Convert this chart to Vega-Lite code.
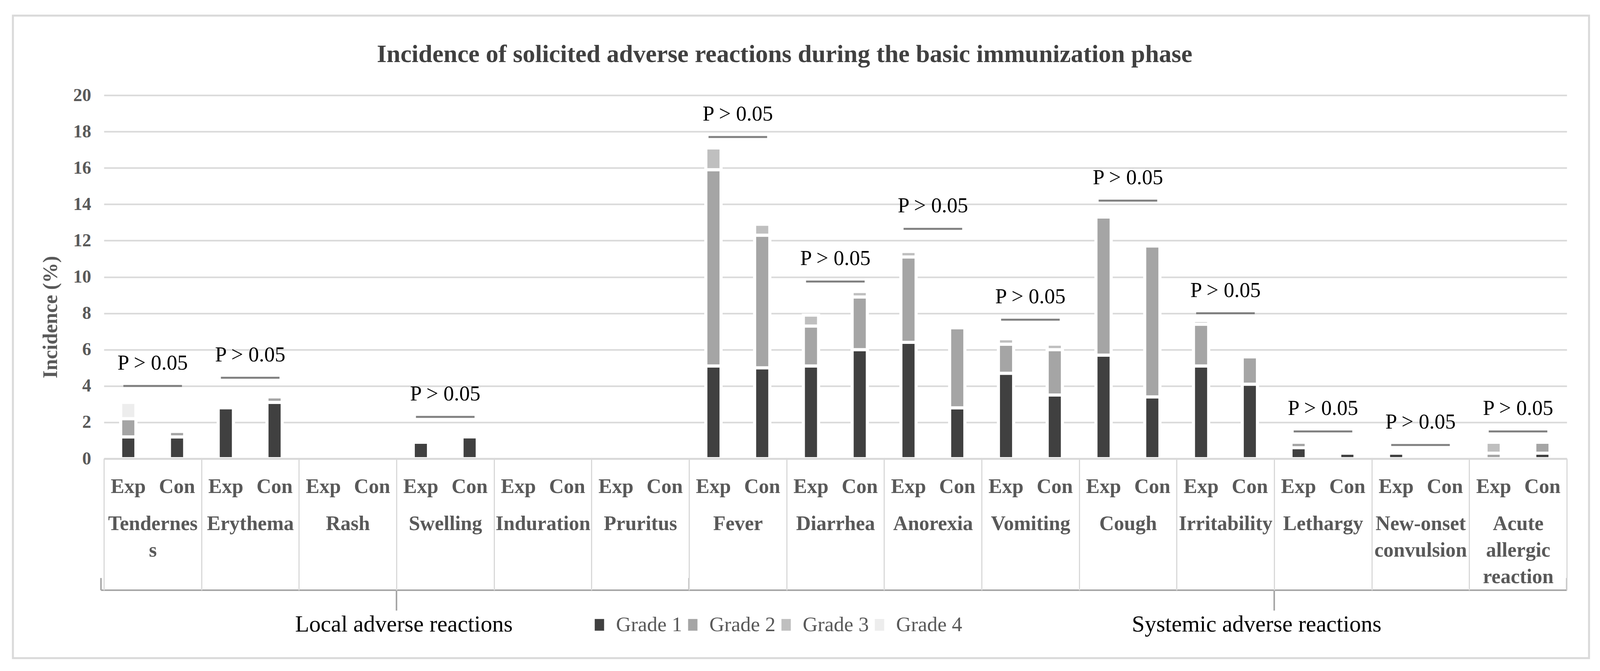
{
  "$schema": "https://vega.github.io/schema/vega-lite/v6.json",
  "width": 3745,
  "height": 931,
  "autosize": {"type": "none"},
  "padding": {"left": 266, "top": 244, "right": 85, "bottom": 544},
  "background": "white",
  "title": {
    "text": "Incidence of solicited adverse reactions during the basic immunization phase",
    "font": "Liberation Serif", "fontSize": 64, "fontWeight": "bold", "color": "#404040",
    "anchor": "middle", "frame": "group", "dx": -130, "offset": -185, "baseline": "alphabetic"
  },
  "config": {"view": {"stroke": null}, "font": "Liberation Serif"},
  "datasets": {
    "bars": [
      {"category": "Tenderness", "group": "Exp", "grade": "Grade 1", "value": 1.2},
      {"category": "Tenderness", "group": "Exp", "grade": "Grade 2", "value": 1.0},
      {"category": "Tenderness", "group": "Exp", "grade": "Grade 4", "value": 0.9},
      {"category": "Tenderness", "group": "Con", "grade": "Grade 1", "value": 1.2},
      {"category": "Tenderness", "group": "Con", "grade": "Grade 2", "value": 0.3},
      {"category": "Erythema", "group": "Exp", "grade": "Grade 1", "value": 2.8},
      {"category": "Erythema", "group": "Con", "grade": "Grade 1", "value": 3.1},
      {"category": "Erythema", "group": "Con", "grade": "Grade 2", "value": 0.3},
      {"category": "Rash", "group": "Exp", "grade": "Grade 1", "value": 0},
      {"category": "Rash", "group": "Con", "grade": "Grade 1", "value": 0},
      {"category": "Swelling", "group": "Exp", "grade": "Grade 1", "value": 0.9},
      {"category": "Swelling", "group": "Con", "grade": "Grade 1", "value": 1.2},
      {"category": "Induration", "group": "Exp", "grade": "Grade 1", "value": 0},
      {"category": "Induration", "group": "Con", "grade": "Grade 1", "value": 0},
      {"category": "Pruritus", "group": "Exp", "grade": "Grade 1", "value": 0},
      {"category": "Pruritus", "group": "Con", "grade": "Grade 1", "value": 0},
      {"category": "Fever", "group": "Exp", "grade": "Grade 1", "value": 5.1},
      {"category": "Fever", "group": "Exp", "grade": "Grade 2", "value": 10.8},
      {"category": "Fever", "group": "Exp", "grade": "Grade 3", "value": 1.2},
      {"category": "Fever", "group": "Con", "grade": "Grade 1", "value": 5.0},
      {"category": "Fever", "group": "Con", "grade": "Grade 2", "value": 7.3},
      {"category": "Fever", "group": "Con", "grade": "Grade 3", "value": 0.6},
      {"category": "Diarrhea", "group": "Exp", "grade": "Grade 1", "value": 5.1},
      {"category": "Diarrhea", "group": "Exp", "grade": "Grade 2", "value": 2.2},
      {"category": "Diarrhea", "group": "Exp", "grade": "Grade 3", "value": 0.6},
      {"category": "Diarrhea", "group": "Con", "grade": "Grade 1", "value": 6.0},
      {"category": "Diarrhea", "group": "Con", "grade": "Grade 2", "value": 2.9},
      {"category": "Diarrhea", "group": "Con", "grade": "Grade 3", "value": 0.3},
      {"category": "Anorexia", "group": "Exp", "grade": "Grade 1", "value": 6.4},
      {"category": "Anorexia", "group": "Exp", "grade": "Grade 2", "value": 4.7},
      {"category": "Anorexia", "group": "Exp", "grade": "Grade 3", "value": 0.3},
      {"category": "Anorexia", "group": "Con", "grade": "Grade 1", "value": 2.8},
      {"category": "Anorexia", "group": "Con", "grade": "Grade 2", "value": 4.4},
      {"category": "Vomiting", "group": "Exp", "grade": "Grade 1", "value": 4.7},
      {"category": "Vomiting", "group": "Exp", "grade": "Grade 2", "value": 1.6},
      {"category": "Vomiting", "group": "Exp", "grade": "Grade 3", "value": 0.3},
      {"category": "Vomiting", "group": "Con", "grade": "Grade 1", "value": 3.5},
      {"category": "Vomiting", "group": "Con", "grade": "Grade 2", "value": 2.5},
      {"category": "Vomiting", "group": "Con", "grade": "Grade 3", "value": 0.3},
      {"category": "Cough", "group": "Exp", "grade": "Grade 1", "value": 5.7},
      {"category": "Cough", "group": "Exp", "grade": "Grade 2", "value": 7.6},
      {"category": "Cough", "group": "Con", "grade": "Grade 1", "value": 3.4},
      {"category": "Cough", "group": "Con", "grade": "Grade 2", "value": 8.3},
      {"category": "Irritability", "group": "Exp", "grade": "Grade 1", "value": 5.1},
      {"category": "Irritability", "group": "Exp", "grade": "Grade 2", "value": 2.3},
      {"category": "Irritability", "group": "Exp", "grade": "Grade 3", "value": 0.2},
      {"category": "Irritability", "group": "Con", "grade": "Grade 1", "value": 4.1},
      {"category": "Irritability", "group": "Con", "grade": "Grade 2", "value": 1.5},
      {"category": "Lethargy", "group": "Exp", "grade": "Grade 1", "value": 0.6},
      {"category": "Lethargy", "group": "Exp", "grade": "Grade 2", "value": 0.3},
      {"category": "Lethargy", "group": "Con", "grade": "Grade 1", "value": 0.3},
      {"category": "New-onset convulsion", "group": "Exp", "grade": "Grade 1", "value": 0.3},
      {"category": "New-onset convulsion", "group": "Con", "grade": "Grade 1", "value": 0},
      {"category": "Acute allergic reaction", "group": "Exp", "grade": "Grade 1", "value": 0},
      {"category": "Acute allergic reaction", "group": "Exp", "grade": "Grade 2", "value": 0.3},
      {"category": "Acute allergic reaction", "group": "Exp", "grade": "Grade 3", "value": 0.6},
      {"category": "Acute allergic reaction", "group": "Con", "grade": "Grade 1", "value": 0.3},
      {"category": "Acute allergic reaction", "group": "Con", "grade": "Grade 2", "value": 0.6}
    ],
    "pvals": [
      {"category": "Tenderness", "line_y": 4.0},
      {"category": "Erythema", "line_y": 4.45},
      {"category": "Swelling", "line_y": 2.3},
      {"category": "Fever", "line_y": 17.7},
      {"category": "Diarrhea", "line_y": 9.75},
      {"category": "Anorexia", "line_y": 12.65},
      {"category": "Vomiting", "line_y": 7.65},
      {"category": "Cough", "line_y": 14.2},
      {"category": "Irritability", "line_y": 8.0},
      {"category": "Lethargy", "line_y": 1.5},
      {"category": "New-onset convulsion", "line_y": 0.75},
      {"category": "Acute allergic reaction", "line_y": 1.5}
    ]
  },
  "layer": [
    {
      "layer": [
        {
          "data": {"name": "bars"},
          "transform": [{"filter": "datum.value > 0"}],
          "mark": {"type": "bar", "stroke": "white", "strokeWidth": 8},
          "encoding": {
            "x": {
              "field": "category", "type": "nominal",
              "scale": {"domain": ["Tenderness", "Erythema", "Rash", "Swelling", "Induration", "Pruritus", "Fever", "Diarrhea", "Anorexia", "Vomiting", "Cough", "Irritability", "Lethargy", "New-onset convulsion", "Acute allergic reaction"], "paddingInner": 0, "paddingOuter": 0},
              "axis": {
                "title": null, "zindex": 1,
                "domain": true, "domainColor": "#d9d9d9", "domainWidth": 5,
                "ticks": true, "tickBand": "extent", "tickSize": 337, "tickColor": "#d9d9d9", "tickWidth": 3,
                "labelPadding": -196, "labelBaseline": "top", "labelAngle": 0,
                "labelFont": "Liberation Serif", "labelFontSize": 52, "labelFontWeight": "bold", "labelColor": "#595959",
                "labelLineHeight": 68, "labelLimit": 0, "labelOverlap": false,
                "labelExpr": "datum.value == 'Tenderness' ? ['Tendernes', 's'] : datum.value == 'New-onset convulsion' ? ['New-onset', 'convulsion'] : datum.value == 'Acute allergic reaction' ? ['Acute', 'allergic', 'reaction'] : datum.label"
              }
            },
            "xOffset": {"field": "group", "type": "nominal", "scale": {"domain": ["Exp", "Con"], "paddingInner": 0.6876, "paddingOuter": 0.3438}},
            "y": {
              "field": "value", "type": "quantitative", "stack": "zero",
              "scale": {"domain": [0, 20], "nice": false},
              "axis": {
                "values": [0, 2, 4, 6, 8, 10, 12, 14, 16, 18, 20],
                "title": "Incidence (%)", "grid": true, "gridColor": "#d9d9d9", "gridWidth": 4,
                "domain": false, "ticks": false, "labelPadding": 33,
                "labelFont": "Liberation Serif", "labelFontSize": 46, "labelFontWeight": "bold", "labelColor": "#595959",
                "titleFont": "Liberation Serif", "titleFontSize": 52, "titleFontWeight": "bold", "titleColor": "#595959",
                "titleX": -137, "titleY": 568, "titleAngle": 270, "titleAlign": "center", "titleBaseline": "middle"
              }
            },
            "color": {
              "field": "grade", "type": "nominal",
              "scale": {"domain": ["Grade 1", "Grade 2", "Grade 3", "Grade 4"], "range": ["#404040", "#a5a5a5", "#bfbfbf", "#ededed"]},
              "legend": {
                "title": null, "orient": "none", "direction": "horizontal", "columns": 4,
                "legendX": 1242, "legendY": 1330,
                "symbolType": "M-0.8,-1L0.8,-1L0.8,1L-0.8,1Z", "symbolSize": 900, "symbolStrokeWidth": 0,
                "labelFont": "Liberation Serif", "labelFontSize": 53, "labelColor": "#595959", "labelLimit": 0,
                "labelOffset": 16, "columnPadding": -1, "padding": 0
              }
            },
            "order": {"field": "grade", "sort": "ascending"}
          }
        },
        {
          "data": {"name": "bars"},
          "transform": [{"filter": "datum.grade == 'Grade 1'"}],
          "mark": {"type": "text", "font": "Liberation Serif", "fontSize": 52, "fontWeight": "bold", "color": "#595959", "baseline": "middle", "align": "center"},
          "encoding": {
            "x": {"field": "category", "type": "nominal"},
            "xOffset": {"field": "group", "type": "nominal", "scale": {"domain": ["Exp", "Con"], "paddingInner": 0.6876, "paddingOuter": 0.3438}},
            "y": {"datum": -1.55, "type": "quantitative", "scale": {"domain": [0, 20], "nice": false}},
            "text": {"field": "group", "type": "nominal"}
          }
        },
        {
          "data": {"name": "pvals"},
          "mark": {"type": "tick", "orient": "horizontal", "size": 150, "thickness": 5, "color": "#7f7f7f", "opacity": 1},
          "encoding": {
            "x": {"field": "category", "type": "nominal"},
            "y": {"field": "line_y", "type": "quantitative", "scale": {"domain": [0, 20], "nice": false}}
          }
        },
        {
          "data": {"name": "pvals"},
          "mark": {"type": "text", "text": "P > 0.05", "font": "Liberation Serif", "fontSize": 54, "color": "#000000", "baseline": "middle", "align": "center", "dy": -58},
          "encoding": {
            "x": {"field": "category", "type": "nominal"},
            "y": {"field": "line_y", "type": "quantitative", "scale": {"domain": [0, 20], "nice": false}}
          }
        }
      ]
    },
    {
      "layer": [
        {
          "data": {"values": [{}]},
          "mark": {"type": "rect", "fillOpacity": 0, "stroke": "#d9d9d9", "strokeWidth": 5},
          "encoding": {
            "x": {"datum": -0.933, "type": "quantitative", "scale": {"domain": [0, 15], "nice": false, "zero": false}, "axis": null},
            "x2": {"datum": 15.228},
            "y": {"datum": 24.38, "type": "quantitative", "scale": {"domain": [0, 20], "nice": false, "zero": false}, "axis": null},
            "y2": {"datum": -10.98}
          }
        },
        {
          "data": {"values": [{}]},
          "mark": {"type": "rule", "color": "#a6a6a6", "strokeWidth": 4},
          "encoding": {
            "x": {"datum": -0.03, "type": "quantitative", "scale": {"domain": [0, 15], "nice": false, "zero": false}, "axis": null},
            "x2": {"datum": 15},
            "y": {"datum": -7.24, "type": "quantitative", "scale": {"domain": [0, 20], "nice": false, "zero": false}, "axis": null}
          }
        },
        {
          "data": {"values": [{}]},
          "mark": {"type": "rule", "color": "#a6a6a6", "strokeWidth": 4},
          "encoding": {
            "x": {"datum": -0.03, "type": "quantitative", "scale": {"domain": [0, 15], "nice": false, "zero": false}, "axis": null},
            "y": {"datum": -7.24, "type": "quantitative", "scale": {"domain": [0, 20], "nice": false, "zero": false}, "axis": null},
            "y2": {"datum": -6.57}
          }
        },
        {
          "data": {"values": [{}]},
          "mark": {"type": "rule", "color": "#a6a6a6", "strokeWidth": 4},
          "encoding": {
            "x": {"datum": 6, "type": "quantitative", "scale": {"domain": [0, 15], "nice": false, "zero": false}, "axis": null},
            "y": {"datum": -7.24, "type": "quantitative", "scale": {"domain": [0, 20], "nice": false, "zero": false}, "axis": null},
            "y2": {"datum": -6.57}
          }
        },
        {
          "data": {"values": [{}]},
          "mark": {"type": "rule", "color": "#a6a6a6", "strokeWidth": 4},
          "encoding": {
            "x": {"datum": 15, "type": "quantitative", "scale": {"domain": [0, 15], "nice": false, "zero": false}, "axis": null},
            "y": {"datum": -7.24, "type": "quantitative", "scale": {"domain": [0, 20], "nice": false, "zero": false}, "axis": null},
            "y2": {"datum": -6.57}
          }
        },
        {
          "data": {"values": [{}]},
          "mark": {"type": "rule", "color": "#a6a6a6", "strokeWidth": 4},
          "encoding": {
            "x": {"datum": 3, "type": "quantitative", "scale": {"domain": [0, 15], "nice": false, "zero": false}, "axis": null},
            "y": {"datum": -7.24, "type": "quantitative", "scale": {"domain": [0, 20], "nice": false, "zero": false}, "axis": null},
            "y2": {"datum": -8.36}
          }
        },
        {
          "data": {"values": [{}]},
          "mark": {"type": "rule", "color": "#a6a6a6", "strokeWidth": 4},
          "encoding": {
            "x": {"datum": 12, "type": "quantitative", "scale": {"domain": [0, 15], "nice": false, "zero": false}, "axis": null},
            "y": {"datum": -7.24, "type": "quantitative", "scale": {"domain": [0, 20], "nice": false, "zero": false}, "axis": null},
            "y2": {"datum": -8.36}
          }
        },
        {
          "data": {"values": [{}]},
          "mark": {"type": "text", "text": "Local adverse reactions", "font": "Liberation Serif", "fontSize": 59, "color": "#000000", "baseline": "middle", "align": "center"},
          "encoding": {
            "x": {"datum": 3.076, "type": "quantitative", "scale": {"domain": [0, 15], "nice": false, "zero": false}, "axis": null},
            "y": {"datum": -9.13, "type": "quantitative", "scale": {"domain": [0, 20], "nice": false, "zero": false}, "axis": null}
          }
        },
        {
          "data": {"values": [{}]},
          "mark": {"type": "text", "text": "Systemic adverse reactions", "font": "Liberation Serif", "fontSize": 59, "color": "#000000", "baseline": "middle", "align": "center"},
          "encoding": {
            "x": {"datum": 11.82, "type": "quantitative", "scale": {"domain": [0, 15], "nice": false, "zero": false}, "axis": null},
            "y": {"datum": -9.13, "type": "quantitative", "scale": {"domain": [0, 20], "nice": false, "zero": false}, "axis": null}
          }
        }
      ]
    }
  ],
  "resolve": {"scale": {"x": "independent", "y": "independent"}, "axis": {"x": "independent", "y": "independent"}}
}
